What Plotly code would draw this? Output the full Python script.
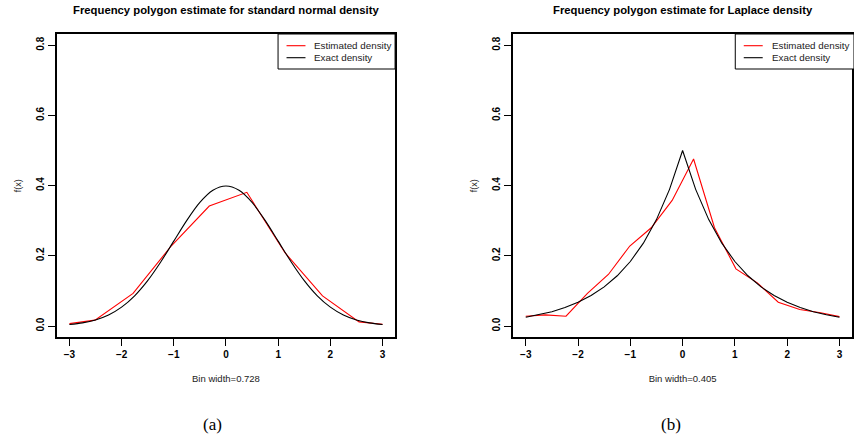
import plotly.graph_objects as go

# ---- data ----
# (a) standard normal: frequency polygon vertices
norm_poly_x = [-3.0, -2.51, -1.78, -1.05, -0.32, 0.40, 1.13, 1.85, 2.55, 3.0]
norm_poly_y = [0.007, 0.017, 0.093, 0.228, 0.342, 0.381, 0.209, 0.086, 0.012, 0.005]
# exact standard normal density, sampled
norm_x = [-3.0, -2.75, -2.5, -2.25, -2.0, -1.75, -1.5, -1.25, -1.0, -0.75, -0.5, -0.25,
          0.0, 0.25, 0.5, 0.75, 1.0, 1.25, 1.5, 1.75, 2.0, 2.25, 2.5, 2.75, 3.0]
norm_y = [0.0044, 0.0091, 0.0175, 0.0317, 0.0540, 0.0863, 0.1295, 0.1826, 0.2420, 0.3011, 0.3521, 0.3867,
          0.3989, 0.3867, 0.3521, 0.3011, 0.2420, 0.1826, 0.1295, 0.0863, 0.0540, 0.0317, 0.0175, 0.0091, 0.0044]

# (b) Laplace: frequency polygon vertices
lap_poly_x = [-3.0, -2.63, -2.23, -1.82, -1.42, -1.01, -0.60, -0.20, 0.21, 0.61, 1.02, 1.43, 1.83, 2.24, 2.64, 3.0]
lap_poly_y = [0.028, 0.032, 0.028, 0.093, 0.147, 0.228, 0.280, 0.358, 0.476, 0.280, 0.163, 0.123, 0.068, 0.047, 0.038, 0.027]
# exact Laplace density, sampled
lap_x = [-3.0, -2.75, -2.5, -2.25, -2.0, -1.75, -1.5, -1.25, -1.0, -0.75, -0.5, -0.25,
         0.0, 0.25, 0.5, 0.75, 1.0, 1.25, 1.5, 1.75, 2.0, 2.25, 2.5, 2.75, 3.0]
lap_y = [0.0249, 0.0320, 0.0410, 0.0527, 0.0677, 0.0869, 0.1116, 0.1433, 0.1839, 0.2362, 0.3033, 0.3894,
         0.5000, 0.3894, 0.3033, 0.2362, 0.1839, 0.1433, 0.1116, 0.0869, 0.0677, 0.0527, 0.0410, 0.0320, 0.0249]

titles = ["Frequency polygon estimate for standard normal density",
          "Frequency polygon estimate for Laplace density"]
xlabels = ["Bin width=0.728", "Bin width=0.405"]
captions = ["(a)", "(b)"]
legend_labels = ["Estimated density", "Exact density"]
x_ticks = [-3, -2, -1, 0, 1, 2, 3]
x_tick_text = ["\u22123", "\u22122", "\u22121", "0", "1", "2", "3"]
y_ticks = [0.0, 0.2, 0.4, 0.6, 0.8]
y_tick_text = ["0.0", "0.2", "0.4", "0.6", "0.8"]

W, H = 854, 441
RED = "#FF0000"
FONT = "Liberation Sans"

fig = go.Figure()

panels = [
    (norm_poly_x, norm_poly_y, norm_x, norm_y, "spline", "x", "y"),
    (lap_poly_x, lap_poly_y, lap_x, lap_y, "linear", "x2", "y2"),
]
for px_, py_, ex, ey, shape, xa, ya in panels:
    fig.add_trace(go.Scatter(x=px_, y=py_, mode="lines", name=legend_labels[0],
                             line=dict(color=RED, width=1.1), xaxis=xa, yaxis=ya, showlegend=False))
    fig.add_trace(go.Scatter(x=ex, y=ey, mode="lines", name=legend_labels[1],
                             line=dict(color="black", width=1.1, shape=shape, smoothing=0.8),
                             xaxis=xa, yaxis=ya, showlegend=False))

# domains (paper fractions)
left_dom = [57 / W, 396 / W]
right_dom = [514.4 / W, 854 / W]
ydom = [(H - 337.3) / H, (H - 34) / H]

axis_common = dict(showgrid=False, zeroline=False, showline=True, linecolor="black", linewidth=1.5,
                   mirror=True, ticks="outside", ticklen=7, tickwidth=1, tickcolor="black")
tickfont = dict(family=FONT, size=10, color="black", weight="bold")

xaxes = [("xaxis", "y", left_dom, 0), ("xaxis2", "y2", right_dom, 1)]
for name, anchor, dom, i in xaxes:
    fig.layout[name] = dict(axis_common, domain=dom, anchor=anchor, range=[-3.24, 3.24],
                            tickvals=x_ticks, ticktext=x_tick_text, tickfont=tickfont,
                            title=dict(text=xlabels[i], font=dict(family=FONT, size=9.5, color="#222"),
                                       standoff=16))
for name, anchor in [("yaxis", "x"), ("yaxis2", "x2")]:
    fig.layout[name] = dict(axis_common, domain=ydom, anchor=anchor, range=[-0.032, 0.832],
                            tickvals=y_ticks, ticktext=y_tick_text, tickfont=tickfont, tickangle=-90,
                            title=dict(text="f(x)", font=dict(family=FONT, size=9, color="#222"),
                                       standoff=12))

# legend boxes drawn in paper coordinates (R-style compact legend)
shapes = []
annotations = []
legend_boxes = [(278.7, 396.0), (737.0, 856.0)]
for (lx0, lx1) in legend_boxes:
    shapes.append(dict(type="rect", xref="paper", yref="paper",
                       x0=lx0 / W, x1=lx1 / W, y0=(H - 69) / H, y1=(H - 34) / H,
                       line=dict(color="black", width=1), fillcolor="white", layer="above"))
    for k, (col, yy) in enumerate([(RED, 45.7), ("black", 57.7)]):
        shapes.append(dict(type="line", xref="paper", yref="paper",
                           x0=(lx0 + 8.5) / W, x1=(lx0 + 27.5) / W, y0=(H - yy) / H, y1=(H - yy) / H,
                           line=dict(color=col, width=1.1), layer="above"))
        annotations.append(dict(text=legend_labels[k], x=(lx0 + 34.5) / W, y=(H - yy) / H,
                                xref="paper", yref="paper", showarrow=False,
                                xanchor="left", yanchor="middle",
                                font=dict(family=FONT, size=9.8, color="#222")))

for cx, t in zip([226.5, 684.5], titles):
    annotations.append(dict(text="<b>" + t + "</b>", x=cx / W, y=(H - 10) / H, xref="paper", yref="paper",
                            showarrow=False, xanchor="center", yanchor="middle",
                            font=dict(family=FONT, size=11.3, color="black")))
for cx, c in zip([213, 673], captions):
    annotations.append(dict(text=c, x=cx / W, y=(H - 424) / H, xref="paper", yref="paper",
                            showarrow=False, xanchor="center", yanchor="middle",
                            font=dict(family="Liberation Serif", size=17, color="black")))
fig.layout.shapes = shapes
fig.layout.annotations = annotations

fig.update_layout(width=W, height=H, margin=dict(l=0, r=0, t=0, b=0),
                  paper_bgcolor="white", plot_bgcolor="white", showlegend=False)

fig.write_html("out.html")
